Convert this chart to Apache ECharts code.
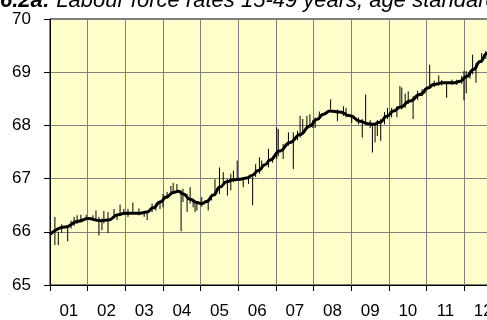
<!DOCTYPE html>
<html>
<head>
<meta charset="utf-8">
<script src="https://cdn.jsdelivr.net/npm/echarts@6/dist/echarts.min.js"></script>
<style>
  html, body { margin: 0; padding: 0; background: #ffffff; overflow: hidden; }
  /* the plot runs on a little past the right edge of the window */
  #chart { width: 502px; height: 320px; }
</style>
</head>
<body>
<div id="chart"></div>
<script>
// Year labels along the bottom (two-digit years 2001-2012)
const yearLabels = ['01', '02', '03', '04', '05', '06', '07', '08', '09', '10', '11', '12'];

// Smoothed trend (decimal year, rate %)
const trendT = [2001.00, 2001.40, 2001.75, 2002.01, 2002.33, 2002.54, 2002.81, 2002.99, 2003.39, 2003.57,
  2003.74, 2003.92, 2004.10, 2004.27, 2004.41, 2004.54, 2004.72, 2004.90, 2005.03, 2005.16,
  2005.34, 2005.51, 2005.69, 2005.87, 2006.05, 2006.22, 2006.36, 2006.53, 2006.71, 2006.84,
  2007.10, 2007.37, 2007.64, 2007.90, 2008.08, 2008.26, 2008.43, 2008.70, 2008.97, 2009.23,
  2009.45, 2009.58, 2009.76, 2009.94, 2010.12, 2010.29, 2010.56, 2010.82, 2011.05, 2011.18,
  2011.44, 2011.71, 2011.89, 2012.06, 2012.24, 2012.42, 2012.60, 2012.75];
const trendV = [65.95, 66.09, 66.20, 66.25, 66.21, 66.22, 66.32, 66.35, 66.35, 66.37,
  66.45, 66.56, 66.66, 66.74, 66.76, 66.71, 66.61, 66.55, 66.53, 66.57,
  66.69, 66.84, 66.94, 66.98, 66.99, 67.01, 67.06, 67.15, 67.26, 67.35,
  67.52, 67.68, 67.83, 67.99, 68.11, 68.21, 68.27, 68.25, 68.18, 68.08,
  68.03, 68.02, 68.06, 68.17, 68.27, 68.34, 68.46, 68.58, 68.71, 68.77,
  68.80, 68.80, 68.83, 68.92, 69.05, 69.20, 69.35, 69.48];

// Monthly estimates: time and low / high end of each vertical stroke
const barT = [2001.13, 2001.22, 2001.31, 2001.47, 2001.56, 2001.64, 2001.72, 2001.82, 2001.96, 2002.14,
  2002.22, 2002.30, 2002.38, 2002.43, 2002.54, 2002.70, 2002.78, 2002.86, 2002.96, 2003.07,
  2003.20, 2003.36, 2003.50, 2003.58, 2003.71, 2003.81, 2003.92, 2004.00, 2004.11, 2004.21,
  2004.27, 2004.37, 2004.48, 2004.53, 2004.64, 2004.72, 2004.80, 2004.85, 2004.90, 2005.03,
  2005.20, 2005.29, 2005.38, 2005.50, 2005.60, 2005.71, 2005.80, 2005.87, 2005.97, 2006.13,
  2006.27, 2006.38, 2006.46, 2006.56, 2006.62, 2006.80, 2006.91, 2007.02, 2007.06, 2007.19,
  2007.33, 2007.46, 2007.57, 2007.64, 2007.71, 2007.82, 2007.90, 2007.98, 2008.04, 2008.15,
  2008.45, 2008.63, 2008.79, 2008.86, 2009.01, 2009.19, 2009.29, 2009.38, 2009.50, 2009.56,
  2009.63, 2009.69, 2009.78, 2009.88, 2009.96, 2010.07, 2010.21, 2010.29, 2010.34, 2010.43,
  2010.51, 2010.64, 2010.76, 2010.88, 2010.95, 2011.08, 2011.20, 2011.32, 2011.40, 2011.53,
  2011.67, 2011.80, 2011.93, 2011.99, 2012.05, 2012.15, 2012.22, 2012.31, 2012.46, 2012.57];
const barLow = [65.75, 65.75, 65.98, 65.82, 66.06, 66.11, 66.15, 66.22, 66.23, 66.22,
  66.22, 65.93, 66.03, 66.16, 65.98, 66.25, 66.22, 66.31, 66.34, 66.28,
  66.34, 66.31, 66.28, 66.22, 66.37, 66.40, 66.43, 66.46, 66.62, 66.74,
  66.75, 66.75, 66.01, 66.56, 66.37, 66.53, 66.46, 66.37, 66.40, 66.47,
  66.40, 66.59, 66.68, 66.71, 66.87, 66.68, 66.78, 66.93, 66.99, 66.84,
  66.90, 66.50, 67.03, 67.09, 67.18, 67.21, 67.30, 67.37, 67.42, 67.37,
  67.62, 67.18, 67.72, 67.77, 67.87, 67.96, 67.99, 67.95, 67.95, 68.10,
  68.30, 68.08, 68.18, 68.15, 68.05, 68.02, 67.77, 68.02, 67.95, 67.49,
  67.68, 67.80, 67.71, 68.02, 68.12, 68.15, 68.15, 68.36, 68.30, 68.33,
  68.40, 68.12, 68.48, 68.55, 68.60, 68.71, 68.72, 68.75, 68.75, 68.52,
  68.76, 68.76, 68.78, 68.47, 68.60, 68.88, 68.96, 68.80, 69.17, 69.25];
const barHigh = [66.28, 66.00, 66.14, 66.10, 66.21, 66.28, 66.31, 66.32, 66.32, 66.31,
  66.40, 66.28, 66.25, 66.39, 66.37, 66.43, 66.34, 66.51, 66.43, 66.43,
  66.55, 66.44, 66.37, 66.36, 66.53, 66.53, 66.56, 66.71, 66.75, 66.86,
  66.92, 66.90, 66.78, 66.81, 66.71, 66.84, 66.62, 66.59, 66.58, 66.65,
  66.62, 66.71, 66.99, 67.21, 67.12, 66.99, 67.09, 67.15, 67.34, 66.99,
  67.03, 67.03, 67.27, 67.40, 67.34, 67.56, 67.42, 67.96, 67.93, 67.65,
  67.87, 67.87, 67.90, 68.18, 68.12, 68.18, 68.21, 68.10, 68.15, 68.26,
  68.49, 68.30, 68.36, 68.33, 68.18, 68.15, 68.12, 68.58, 68.10, 68.02,
  68.02, 68.10, 68.12, 68.25, 68.33, 68.33, 68.36, 68.74, 68.71, 68.60,
  68.64, 68.55, 68.65, 68.68, 68.70, 69.14, 68.84, 68.94, 68.85, 68.81,
  68.86, 68.86, 68.93, 69.02, 69.02, 69.02, 69.33, 69.17, 69.36, 69.40];

const trendData = trendT.map((t, i) => [t, trendV[i]]);
const barData = barT.map((t, i) => [t, barLow[i], barHigh[i]]);

const chart = echarts.init(document.getElementById('chart'), null, { renderer: 'canvas' });

const labelFont = { color: '#000', fontFamily: 'Liberation Sans, Arial, sans-serif', fontSize: 17 };

chart.setOption({
  animation: false,
  backgroundColor: '#ffffff',
  graphic: [{
    type: 'text',
    x: 0,
    y: 12,
    silent: true,
    style: {
      text: '{b|6.2a:} Labour force rates 15-49 years, age standardised',
      verticalAlign: 'bottom',
      fill: '#000',
      font: 'italic 22px "Liberation Sans", Arial, sans-serif',
      rich: {
        b: { fontWeight: 'bold', fontStyle: 'italic', fontSize: 22, fontFamily: 'Liberation Sans' }
      }
    }
  }],
  grid: {
    left: 50, top: 19, right: 0, bottom: 33,
    show: true,
    backgroundColor: '#FFFFCC',
    borderColor: '#000',
    borderWidth: 1
  },
  xAxis: [{
    type: 'value',
    min: 2001, max: 2013, interval: 1,
    axisLine: { show: false },
    axisTick: { show: false },
    axisLabel: { show: false },
    splitLine: { show: true, lineStyle: { color: '#808080', width: 1 } }
  }, {
    type: 'category',
    data: yearLabels,
    position: 'bottom',
    boundaryGap: true,
    axisLine: { show: true, lineStyle: { color: '#000', width: 1 } },
    axisTick: { show: true, length: 6, lineStyle: { color: '#000' } },
    axisLabel: Object.assign({ margin: 18, interval: 0 }, labelFont),
    splitLine: { show: false }
  }],
  yAxis: {
    type: 'value',
    min: 65, max: 70, interval: 1,
    axisLine: { show: true, lineStyle: { color: '#000', width: 1 } },
    axisTick: { show: true, length: 6, lineStyle: { color: '#000' } },
    axisLabel: Object.assign({ margin: 19 }, labelFont),
    splitLine: { show: true, lineStyle: { color: '#808080', width: 1 } }
  },
  series: [{
    type: 'custom',
    xAxisIndex: 0,
    data: barData,
    encode: { x: 0, y: [1, 2] },
    renderItem: function (params, api) {
      const a = api.coord([api.value(0), api.value(1)]);
      const b = api.coord([api.value(0), api.value(2)]);
      return {
        type: 'line',
        shape: { x1: a[0], y1: a[1], x2: b[0], y2: b[1] },
        style: { stroke: '#000', lineWidth: 1 }
      };
    },
    z: 3
  }, {
    type: 'line',
    xAxisIndex: 0,
    data: trendData,
    smooth: 0.5,
    smoothMonotone: 'x',
    showSymbol: false,
    lineStyle: { color: '#000', width: 3 },
    z: 4
  }]
});
</script>
</body>
</html>
